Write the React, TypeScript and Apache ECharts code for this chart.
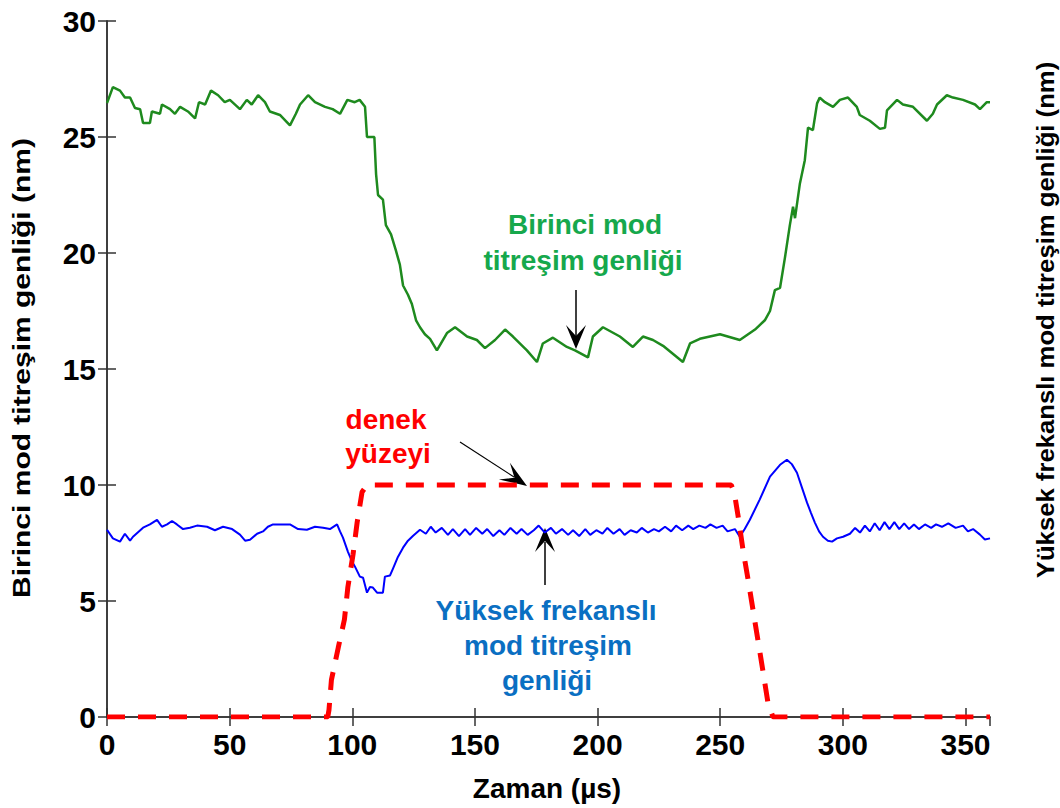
import React, { useEffect, useRef } from "react";
import * as echarts from "echarts";

// Birinci mod titreşim genliği (green)
const greenX = [0, 2.4, 5.3, 7.3, 9.4, 11.4, 13.5, 14.7, 17.5, 18.3, 21.6, 22.4, 25.7, 27.7, 29.8, 33, 35.9, 37.5, 40, 42.4, 45.3, 48, 50.1, 54.2, 57, 59, 61.6, 64.4, 66.4, 70.5, 74.6, 77, 78.7, 82, 84.8, 88.9, 92, 95, 98, 101, 103, 105.2, 106, 109, 109.7, 110.5, 112.5, 113.7, 115.8, 117.8, 119.4, 120.7, 122.7, 124.3, 126, 127.6, 129.6, 131.7, 134.5, 138.6, 141.9, 146.8, 150.8, 154.1, 158.2, 162.3, 165.5, 171.2, 175.3, 177.7, 181.8, 187.5, 190.8, 196.1, 198.1, 202.2, 209.1, 214.4, 218.5, 222.6, 226.7, 234.8, 237.7, 241.7, 249.9, 258, 264.2, 268.2, 270.3, 272.3, 274.4, 276.4, 278.4, 279.7, 280.5, 282.5, 284.5, 285.8, 287.8, 289.5, 290.6, 292.7, 296, 298.8, 302.1, 305.7, 306.9, 311, 315.1, 317.2, 318, 322.1, 324.5, 328.6, 334.3, 336.7, 338.4, 342.4, 344.9, 349, 353.9, 355.9, 358.7, 360];
const greenY = [26.46, 27.15, 27.0, 26.7, 26.7, 26.25, 26.2, 25.6, 25.6, 26.1, 26.0, 26.4, 26.2, 26.0, 26.3, 26.1, 25.8, 26.5, 26.4, 27.0, 26.8, 26.5, 26.6, 26.2, 26.6, 26.4, 26.8, 26.5, 26.1, 25.95, 25.5, 26.0, 26.4, 26.8, 26.5, 26.3, 26.2, 26.0, 26.6, 26.5, 26.6, 26.3, 25.0, 25.0, 23.4, 22.5, 22.3, 21.2, 20.8, 20.1, 19.5, 18.6, 18.2, 17.8, 17.1, 16.8, 16.5, 16.3, 15.8, 16.55, 16.8, 16.4, 16.25, 15.9, 16.25, 16.7, 16.4, 15.8, 15.3, 16.1, 16.35, 15.95, 15.8, 15.5, 16.4, 16.8, 16.4, 15.95, 16.4, 16.25, 16.0, 15.3, 16.1, 16.3, 16.5, 16.25, 16.7, 17.1, 17.5, 18.4, 18.5, 19.8, 21.2, 22.0, 21.5, 23.0, 24.0, 25.4, 25.3, 26.45, 26.7, 26.5, 26.3, 26.6, 26.7, 26.3, 25.95, 25.7, 25.35, 25.4, 26.15, 26.6, 26.4, 26.3, 25.7, 26.0, 26.4, 26.8, 26.7, 26.6, 26.4, 26.2, 26.5, 26.5];

// Yüksek frekanslı mod titreşim genliği (blue)
const blueX = [0, 2.4, 5.3, 7.3, 9.4, 10.6, 14.7, 17.5, 20.4, 22.4, 24.5, 26.5, 28.5, 31, 33.8, 36.7, 40.8, 44, 47.3, 51, 54.2, 56.3, 58.3, 61.2, 63.6, 65.6, 67.7, 70.5, 74.6, 77.9, 81.5, 84.8, 88.1, 90.9, 93.8, 95, 96.2, 98.2, 99.9, 101.1, 103.1, 104.4, 106, 107.2, 108.4, 110.1, 112.5, 113.3, 115.4, 116.6, 118.6, 120.7, 122.7, 124.7, 127.6, 130, 132, 134, 136.5, 139, 141, 143.5, 146, 148, 150.5, 153, 155, 157.5, 160, 162, 164.5, 167, 169, 171.5, 174, 176, 178.5, 181, 183, 185.5, 188, 190, 192.5, 195, 197, 199.5, 202, 204, 206.5, 209, 211, 213.5, 216, 218, 220.5, 223, 225, 227.5, 230, 232, 234.5, 237, 239, 241.5, 244, 246, 248.5, 251, 253, 256, 258, 260, 262.1, 266.1, 270.3, 274.4, 277.2, 279.2, 281.3, 283.3, 285.4, 287, 288.6, 290.3, 291.9, 293.9, 295.6, 297.6, 300.1, 302.9, 305, 307, 309, 311, 313, 315, 317, 319, 321, 323, 325, 327, 329, 331, 333.5, 336, 338, 340.4, 343, 346, 349, 351, 353.1, 355.9, 357.9, 360];
const blueY = [8.07, 7.7, 7.56, 7.9, 7.6, 7.77, 8.16, 8.3, 8.5, 8.2, 8.3, 8.45, 8.3, 8.1, 8.16, 8.25, 8.2, 8.05, 8.2, 8.1, 7.86, 7.6, 7.64, 7.9, 8.0, 8.2, 8.3, 8.3, 8.3, 8.1, 8.07, 8.2, 8.16, 8.1, 8.3, 8.0, 7.73, 7.13, 6.7, 6.48, 6.05, 6.0, 5.36, 5.6, 5.58, 5.36, 5.36, 6.05, 6.1, 6.4, 6.9, 7.3, 7.6, 7.8, 8.07, 7.9, 8.2, 7.95, 8.15, 7.85, 8.1, 7.8, 8.1, 7.85, 8.15, 7.9, 8.1, 7.8, 8.05, 7.85, 8.15, 7.9, 8.1, 7.85, 8.05, 8.25, 7.95, 8.15, 7.9, 8.1, 7.85, 8.05, 7.8, 8.1, 7.85, 8.05, 7.9, 8.15, 7.9, 8.1, 7.85, 8.05, 7.95, 8.15, 7.95, 8.1, 8.0, 8.2, 8.0, 8.25, 8.05, 8.25, 8.1, 8.25, 8.15, 8.3, 8.15, 8.25, 8.0, 8.1, 7.77, 8.1, 8.5, 9.37, 10.36, 10.87, 11.09, 10.9, 10.53, 9.9, 9.24, 8.8, 8.38, 8.0, 7.77, 7.6, 7.56, 7.7, 7.77, 7.9, 8.15, 7.95, 8.25, 8.0, 8.35, 8.05, 8.4, 8.1, 8.4, 8.1, 8.35, 8.1, 8.3, 8.1, 8.3, 8.15, 8.3, 8.2, 8.35, 8.15, 8.25, 8.0, 8.1, 7.86, 7.65, 7.7];

// Denek yüzeyi (red dashed)
const redX = [0, 90, 90.5, 91.5, 94.3, 96.8, 98.2, 100.3, 102, 104, 106, 254.5, 255.7, 257.3, 259.3, 261.4, 263.4, 265.4, 267.4, 269.5, 271.5, 360];
const redY = [0, 0, 0.3, 1.6, 3.0, 4.2, 5.6, 7.0, 8.4, 9.7, 10, 10, 9.7, 8.66, 7.2, 5.9, 4.6, 3.3, 2.0, 0.6, 0, 0];

const xTicks = [0, 50, 100, 150, 200, 250, 300, 350];
const yTicks = [0, 5, 10, 15, 20, 25, 30];

const FONT = "'Liberation Sans', Arial, Helvetica, sans-serif";

function pairs(xs: number[], ys: number[]) {
  return xs.map((x, i) => [x, ys[i]]);
}

function arrowHead(tip: number[], dir: number[], len: number, half: number, notch: number) {
  const n = Math.hypot(dir[0], dir[1]);
  const d = [dir[0] / n, dir[1] / n];
  const p = [-d[1], d[0]];
  const bx = tip[0] - len * d[0];
  const by = tip[1] - len * d[1];
  return [
    [tip[0], tip[1]],
    [bx + half * p[0], by + half * p[1]],
    [tip[0] - notch * d[0], tip[1] - notch * d[1]],
    [bx - half * p[0], by - half * p[1]],
  ];
}

export default function App() {
  const ref = useRef<HTMLDivElement>(null);
  useEffect(() => {
    if (!ref.current) return;
    const chart = echarts.init(ref.current, undefined, { renderer: "svg" });
    const axisLine = { show: true, lineStyle: { color: "#333", width: 1.5 } };
    const axisTick = { show: true, inside: true, length: 9, lineStyle: { color: "#333", width: 1.5 } };
    const tickLabel = { fontSize: 30, fontWeight: "bold" as const, color: "#000", fontFamily: FONT };
    const xMin = xTicks[0];
    const yMin = yTicks[0];
    const textStyle = (text: string, fill: string, size = 28) => ({
      text,
      fill,
      font: `bold ${size}px ${FONT}`,
      align: "center",
      verticalAlign: "middle",
    });
    chart.setOption({
      animation: false,
      backgroundColor: "#fff",
      grid: { left: 107, right: 70, top: 21, bottom: 91 },
      xAxis: [
        {
          type: "value", min: xMin, max: 360, interval: 50, position: "bottom",
          axisLine, axisTick, splitLine: { show: false },
          axisLabel: { ...tickLabel, margin: 12, showMaxLabel: false },
        },
        {
          type: "value", min: xMin, max: 360, interval: 50, position: "top",
          axisLine, axisTick, splitLine: { show: false }, axisLabel: { show: false },
        },
      ],
      yAxis: [
        {
          type: "value", min: yMin, max: 30, interval: 5, position: "left",
          axisLine, axisTick, splitLine: { show: false },
          axisLabel: { ...tickLabel, margin: 11 },
        },
        {
          type: "value", min: yMin, max: 30, interval: 5, position: "right",
          axisLine, axisTick, splitLine: { show: false }, axisLabel: { show: false },
        },
      ],
      series: [
        {
          type: "line", name: "Birinci mod titreşim genliği", data: pairs(greenX, greenY),
          showSymbol: false, lineStyle: { color: "#1e8a1e", width: 2.5 }, z: 3,
        },
        {
          type: "line", name: "Yüksek frekanslı mod titreşim genliği", data: pairs(blueX, blueY),
          showSymbol: false, lineStyle: { color: "#0000ff", width: 2 }, z: 3,
        },
        {
          type: "line", name: "denek yüzeyi", data: pairs(redX, redY),
          showSymbol: false, lineStyle: { color: "#ff0000", width: 5, type: [18, 13] }, z: 4,
        },
      ],
      graphic: [
        { type: "text", x: 585, y: 224, style: textStyle("Birinci mod", "#16a84c") },
        { type: "text", x: 583, y: 260, style: textStyle("titreşim genliği", "#16a84c") },
        { type: "line", shape: { x1: 576, y1: 290, x2: 576, y2: 336 }, style: { stroke: "#000", lineWidth: 1.5 } },
        { type: "polygon", shape: { points: arrowHead([576, 349], [0, 1], 24, 10, 13) }, style: { fill: "#000" } },

        { type: "text", x: 386, y: 419, style: textStyle("denek", "#ff0000") },
        { type: "text", x: 388, y: 453, style: textStyle("yüzeyi", "#ff0000") },
        { type: "line", shape: { x1: 460, y1: 442, x2: 514, y2: 477 }, style: { stroke: "#000", lineWidth: 1.2 } },
        { type: "polygon", shape: { points: arrowHead([527, 486], [67, 44], 27, 10, 15) }, style: { fill: "#000" } },

        { type: "text", x: 546, y: 610, style: textStyle("Yüksek frekanslı", "#0a6fc2") },
        { type: "text", x: 548, y: 645, style: textStyle("mod titreşim", "#0a6fc2") },
        { type: "text", x: 547, y: 680, style: textStyle("genliği", "#0a6fc2") },
        { type: "line", shape: { x1: 545, y1: 585, x2: 545, y2: 542 }, style: { stroke: "#000", lineWidth: 1.5 } },
        { type: "polygon", shape: { points: arrowHead([545, 528], [0, -1], 24, 10, 13) }, style: { fill: "#000" } },

        { type: "text", x: 547, y: 788, style: textStyle("Zaman (µs)", "#000") },
        { type: "text", x: 22, y: 368, rotation: Math.PI / 2, scaleX: 1.25, style: textStyle("Birinci mod titreşim genliği (nm)", "#000", 24) },
        { type: "text", x: 1046, y: 320, rotation: Math.PI / 2, scaleX: 1.07, style: textStyle("Yüksek frekanslı mod titreşim genliği (nm)", "#000", 24) },
      ],
    });
    return () => chart.dispose();
  }, []);
  return <div ref={ref} style={{ position: "absolute", left: 0, top: 0, width: 1060, height: 808 }} />;
}
